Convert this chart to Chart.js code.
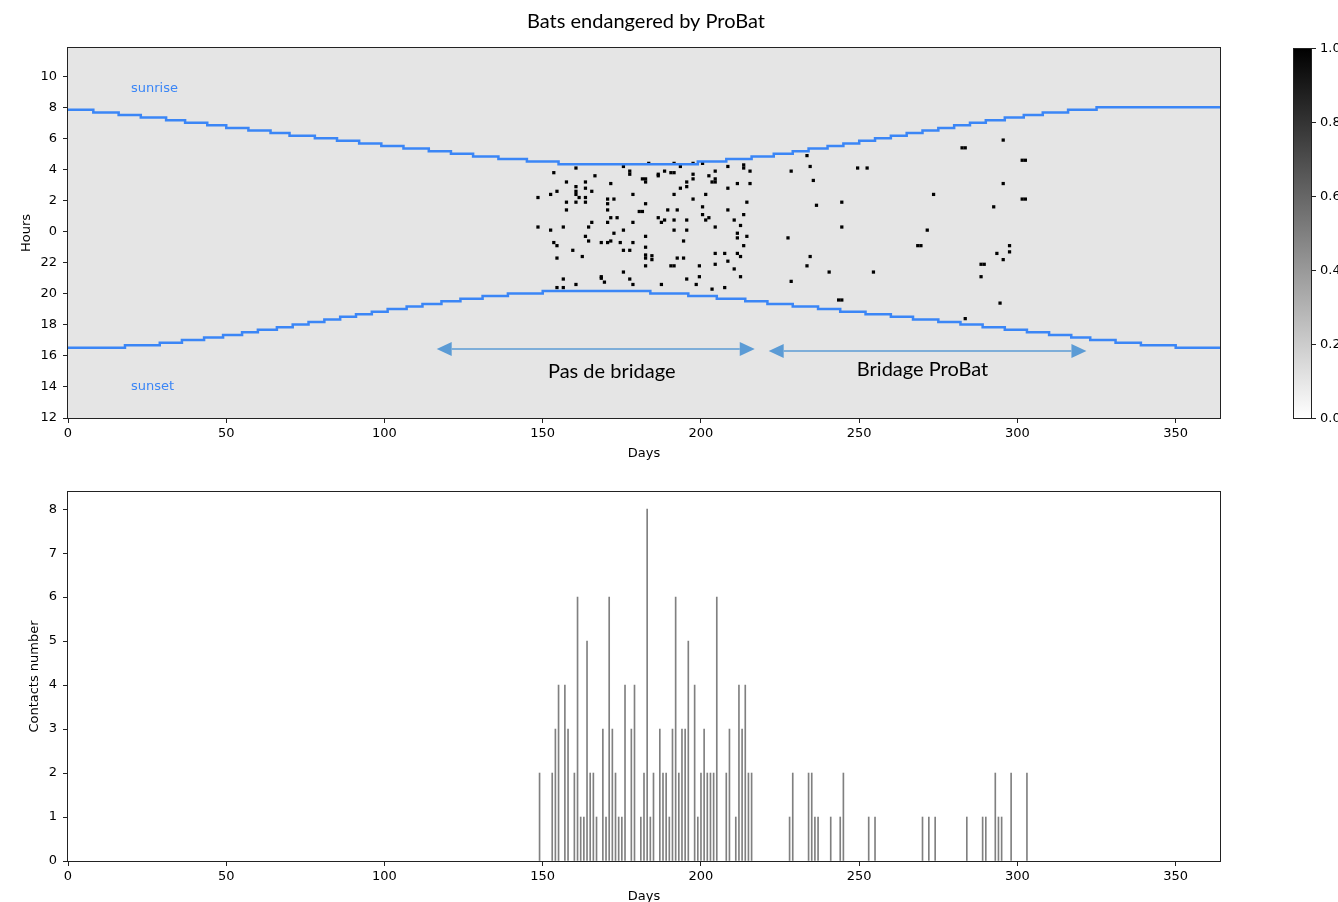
<!DOCTYPE html>
<html>
<head>
<meta charset="utf-8">
<title>Bats endangered by ProBat</title>
<script src="https://cdn.jsdelivr.net/npm/chart.js@4.4.1/dist/chart.umd.min.js"></script>
<style>
    html, body { margin: 0; padding: 0; background: #fff; overflow: hidden; }
    #wrap { position: relative; width: 1338px; height: 902px; }
    canvas { position: absolute; left: 0; }
    #topChart { top: 0; }
    #bottomChart { top: 470px; }
</style>
</head>
<body>
<div id="wrap">
    <canvas id="topChart" width="1338" height="470"></canvas>
    <canvas id="bottomChart" width="1338" height="440"></canvas>
</div>
<script>
// ---- data ----
const dayTicks = [0, 50, 100, 150, 200, 250, 300, 350];
const colorbarTicks = [0.0, 0.2, 0.4, 0.6, 0.8, 1.0];

// sunrise / sunset (clock hours), each value holds from its day onward
const sunriseDays = [0, 8, 16, 23, 31, 37, 44, 50, 57, 64, 70, 78, 85, 92, 99, 106, 114, 121, 128, 136, 145, 155,
    199, 208, 216, 223, 229, 234, 240, 245, 250, 255, 260, 265, 270, 275, 280, 285, 290, 296, 302, 308, 316, 325, 364];
const sunriseHours = [7.85, 7.68, 7.52, 7.35, 7.18, 7.02, 6.85, 6.68, 6.52, 6.35, 6.18, 6.02, 5.85, 5.68, 5.52, 5.35, 5.18, 5.02, 4.85, 4.68, 4.52, 4.35,
    4.52, 4.68, 4.85, 5.02, 5.18, 5.35, 5.52, 5.68, 5.85, 6.02, 6.18, 6.35, 6.52, 6.68, 6.85, 7.02, 7.18, 7.35, 7.52, 7.68, 7.85, 8.02, 8.02];

const sunsetDays = [0, 18, 29, 36, 43, 49, 55, 60, 66, 71, 76, 81, 86, 91, 96, 101, 107, 112, 118, 124, 131, 139, 150,
    184, 196, 205, 214, 221, 229, 237, 244, 252, 260, 267, 275, 282, 289, 296, 303, 310, 317, 323, 331, 339, 350, 364];
const sunsetHours = [16.52, 16.68, 16.85, 17.02, 17.18, 17.35, 17.52, 17.68, 17.85, 18.02, 18.18, 18.35, 18.52, 18.68, 18.85, 19.02, 19.18, 19.35, 19.52, 19.68, 19.85, 20.02, 20.18,
    20.02, 19.85, 19.68, 19.52, 19.35, 19.18, 19.02, 18.85, 18.68, 18.52, 18.35, 18.18, 18.02, 17.85, 17.68, 17.52, 17.35, 17.18, 17.02, 16.85, 16.68, 16.52, 16.52];

// single contacts (day, clock hour)
const contactDays = [
    161, 176, 184, 192, 194, 198, 201,
    154, 167, 178, 178, 187, 187, 189, 191, 192, 198, 203, 205, 209, 214, 214, 216,
    182, 183, 183, 158, 164, 172, 196, 198, 204, 205, 205, 212, 216,
    161, 164, 166, 196, 194, 209, 155, 161, 161, 153, 179, 192, 202,
    149, 162, 164, 171, 173, 198, 158, 161, 164, 171, 183, 215,
    158, 171, 181, 182, 190, 193, 201, 209, 201, 214,
    172, 174, 187, 189, 188, 192, 196, 202, 203, 211, 166, 171, 179, 213,
    149, 153, 157, 165, 176, 192, 196, 205,
    212, 173, 164, 183, 212, 215, 165, 172, 195, 154, 155, 169, 171, 175, 179, 214, 183, 160, 176, 178,
    205, 208, 212, 163, 183, 183, 185, 185, 213, 155, 193, 195, 209, 205, 183, 191, 192, 200, 211, 176,
    169, 169, 157, 178, 196, 200, 213, 170, 155, 157, 161, 179, 188, 199, 208, 204,
    234, 229, 235, 236, 250, 253, 237, 245, 283, 284, 296, 302, 303, 296, 302, 303, 274, 293, 245, 272,
    228, 269, 270, 298, 298, 294, 296, 235, 234, 289, 290, 241, 255, 289, 229, 244, 245, 295, 284
];
const contactHours = [
    4.1, 4.2, 4.4, 4.4, 4.2, 4.4, 4.4,
    3.8, 3.6, 3.9, 3.7, 3.7, 3.6, 3.9, 3.8, 3.8, 3.7, 3.6, 3.9, 4.2, 4.3, 4.1, 3.9,
    3.4, 3.4, 3.2, 3.2, 3.2, 3.1, 3.2, 3.4, 3.2, 3.4, 3.2, 3.1, 3.1,
    2.9, 2.8, 2.6, 2.9, 2.8, 2.8, 2.6, 2.6, 2.4, 2.4, 2.4, 2.4, 2.4,
    2.2, 2.2, 2.2, 2.1, 2.1, 2.1, 1.9, 1.9, 1.9, 1.8, 1.8, 1.9,
    1.4, 1.4, 1.3, 1.3, 1.4, 1.4, 1.6, 1.4, 1.1, 1.1,
    0.9, 0.9, 0.9, 0.75, 0.6, 0.75, 0.75, 0.75, 0.9, 0.75, 0.6, 0.6, 0.6, 0.4,
    0.3, 0.1, 0.3, 0.3, 0.1, 0.1, 0.1, 0.3,
    23.9, 23.9, 23.7, 23.7, 23.6, 23.7, 23.4, 23.4, 23.4, 23.3, 23.1, 23.3, 23.3, 23.3, 23.3, 23.1, 23.0, 22.8, 22.8, 22.8,
    22.6, 22.6, 22.6, 22.4, 22.5, 22.3, 22.45, 22.2, 22.4, 22.3, 22.3, 22.3, 22.1, 21.9, 21.8, 21.8, 21.8, 21.8, 21.6, 21.4,
    21.1, 21.0, 20.95, 20.95, 20.95, 21.1, 21.1, 20.75, 20.4, 20.4, 20.6, 20.6, 20.6, 20.6, 20.4, 20.3,
    4.9, 3.9, 4.2, 3.3, 4.1, 4.1, 1.7, 1.9, 5.4, 5.4, 5.9, 4.6, 4.6, 3.1, 2.1, 2.1, 2.4, 1.6, 0.3, 0.1,
    23.6, 23.1, 23.1, 23.1, 22.7, 22.6, 22.2, 22.4, 21.8, 21.9, 21.9, 21.4, 21.4, 21.1, 20.8, 19.6, 19.6, 19.4, 18.4
];

// contacts per day (bottom panel)
const barDays = [149, 153, 154, 155, 157, 158, 160, 161, 162, 163, 164, 165, 166, 167, 169, 170, 171, 172, 173, 174,
    175, 176, 178, 179, 181, 182, 183, 184, 185, 187, 188, 189, 190, 191, 192, 193, 194, 195, 196, 198,
    199, 200, 201, 202, 203, 204, 205, 208, 209, 211, 212, 213, 214, 215, 216,
    228, 229, 234, 235, 236, 237, 241, 244, 245, 253, 255, 270, 272, 274, 284, 289, 290, 293, 294, 295, 298, 303];
const barCounts = [2, 2, 3, 4, 4, 3, 2, 6, 1, 1, 5, 2, 2, 1, 3, 1, 6, 3, 2, 1,
    1, 4, 3, 4, 1, 2, 8, 1, 2, 3, 2, 2, 1, 3, 6, 2, 3, 3, 5, 4,
    1, 2, 3, 2, 2, 2, 6, 2, 3, 1, 4, 3, 4, 2, 2,
    1, 2, 2, 2, 1, 1, 1, 1, 2, 1, 1, 1, 1, 1, 1, 1, 1, 2, 1, 1, 2, 2];

// annotations (day, clock hour)
const annotations = {
    arrows: [
        { from: 116.5, to: 217, hour: 16.45, label: 'Pas de bridage', labelDay: 171.8, labelHour: 14.97 },
        { from: 221.4, to: 321.8, hour: 16.32, label: 'Bridage ProBat', labelDay: 270, labelHour: 15.1 }
    ],
    sunriseLabel: { day: 19.9, hour: 9.23 },
    sunsetLabel: { day: 19.9, hour: 14.0 }
};

const LINE_BLUE = '#3b86f6';
const ARROW_BLUE = '#5b9bd5';
const TEXT_FONT = "'Lato', 'Open Sans', sans-serif";

// hours axis starts at noon: 12 -> 0 ... 11 -> 23
const toAxisHour = h => (h >= 12 ? h - 12 : h + 12);

class BatActivityChart {
    constructor() {
        this.topChart = null;
        this.bottomChart = null;
        this.init();
    }

    init() {
        Chart.defaults.font.family = "'DejaVu Sans', sans-serif";
        Chart.defaults.font.size = 13;
        Chart.defaults.color = '#000';
        Chart.defaults.animation = false;
        this.createTopChart();
        this.createBottomChart();
    }

    xAxis(height, titlePad) {
        return {
            type: 'linear',
            min: 0,
            max: 364,
            offset: false,
            afterBuildTicks: s => { s.ticks = dayTicks.map(v => ({ value: v })); },
            afterFit: s => { s.height = height; },
            ticks: { padding: 3, maxRotation: 0, autoSkip: false, color: '#000' },
            grid: { display: true, drawOnChartArea: false, tickLength: 5, color: '#222', offset: false },
            border: { display: false },
            title: { display: true, text: 'Days', font: { size: 13 }, color: '#000', padding: { top: 0, bottom: titlePad } }
        };
    }

    framePlugin(fill) {
        return {
            id: 'frame',
            beforeDraw(chart) {
                if (!fill) return;
                const { ctx, chartArea: a } = chart;
                ctx.save();
                ctx.fillStyle = fill;
                ctx.fillRect(a.left, a.top, a.right - a.left, a.bottom - a.top);
                ctx.restore();
            },
            afterDraw(chart) {
                const { ctx, chartArea: a } = chart;
                ctx.save();
                ctx.strokeStyle = '#222';
                ctx.lineWidth = 1;
                ctx.strokeRect(Math.round(a.left) - 0.5, Math.round(a.top) - 0.5,
                    Math.round(a.right - a.left) + 1, Math.round(a.bottom - a.top) + 1);
                ctx.restore();
            }
        };
    }

    drawArrow(ctx, x1, x2, y) {
        const head = 15, half = 7;
        ctx.strokeStyle = ARROW_BLUE;
        ctx.fillStyle = ARROW_BLUE;
        ctx.lineWidth = 1.5;
        ctx.beginPath();
        ctx.moveTo(x1 + head, y);
        ctx.lineTo(x2 - head, y);
        ctx.stroke();
        ctx.beginPath();
        ctx.moveTo(x1, y);
        ctx.lineTo(x1 + head, y - half);
        ctx.lineTo(x1 + head, y + half);
        ctx.closePath();
        ctx.fill();
        ctx.beginPath();
        ctx.moveTo(x2, y);
        ctx.lineTo(x2 - head, y - half);
        ctx.lineTo(x2 - head, y + half);
        ctx.closePath();
        ctx.fill();
    }

    extrasPlugin() {
        const self = this;
        return {
            id: 'extras',
            afterDraw(chart) {
                const { ctx, chartArea: a, scales: { x, y } } = chart;
                ctx.save();

                // title
                ctx.fillStyle = '#000';
                ctx.font = `20px ${TEXT_FONT}`;
                ctx.textAlign = 'center';
                ctx.textBaseline = 'middle';
                ctx.fillText('Bats endangered by ProBat', 646, 22);

                // sunrise / sunset labels
                ctx.fillStyle = LINE_BLUE;
                ctx.font = "13px 'DejaVu Sans', sans-serif";
                ctx.textAlign = 'left';
                const sr = annotations.sunriseLabel, ss = annotations.sunsetLabel;
                ctx.fillText('sunrise', x.getPixelForValue(sr.day), y.getPixelForValue(toAxisHour(sr.hour)));
                ctx.fillText('sunset', x.getPixelForValue(ss.day), y.getPixelForValue(toAxisHour(ss.hour)));

                // arrows
                annotations.arrows.forEach(ar => {
                    self.drawArrow(ctx, x.getPixelForValue(ar.from), x.getPixelForValue(ar.to),
                        y.getPixelForValue(toAxisHour(ar.hour)));
                    ctx.fillStyle = '#000';
                    ctx.font = `20px ${TEXT_FONT}`;
                    ctx.textAlign = 'center';
                    ctx.fillText(ar.label, x.getPixelForValue(ar.labelDay), y.getPixelForValue(toAxisHour(ar.labelHour)));
                });

                // colorbar
                const cbLeft = a.right + 73, cbWidth = 18;
                const grad = ctx.createLinearGradient(0, a.top, 0, a.bottom);
                grad.addColorStop(0, '#000');
                grad.addColorStop(1, '#fff');
                ctx.fillStyle = grad;
                ctx.fillRect(cbLeft, a.top, cbWidth, a.bottom - a.top);
                ctx.strokeStyle = '#222';
                ctx.lineWidth = 1;
                ctx.strokeRect(cbLeft + 0.5, a.top + 0.5, cbWidth, a.bottom - a.top);
                ctx.fillStyle = '#000';
                ctx.font = "13px 'DejaVu Sans', sans-serif";
                ctx.textAlign = 'left';
                colorbarTicks.forEach(t => {
                    const py = Math.round(a.bottom - t * (a.bottom - a.top)) + 0.5;
                    ctx.beginPath();
                    ctx.moveTo(cbLeft + cbWidth, py);
                    ctx.lineTo(cbLeft + cbWidth + 5, py);
                    ctx.stroke();
                    ctx.fillText(t.toFixed(1), cbLeft + cbWidth + 9, py);
                });
                ctx.restore();
            }
        };
    }

    createTopChart() {
        const ctx = document.getElementById('topChart').getContext('2d');
        const stepLine = (days, hours) => days.map((d, i) => ({ x: d, y: toAxisHour(hours[i]) }));

        this.topChart = new Chart(ctx, {
            type: 'scatter',
            data: {
                datasets: [
                    {
                        type: 'line',
                        label: 'sunrise',
                        data: stepLine(sunriseDays, sunriseHours),
                        stepped: 'before',
                        borderColor: LINE_BLUE,
                        borderWidth: 2.5,
                        pointRadius: 0,
                        fill: false,
                        order: 0
                    },
                    {
                        type: 'line',
                        label: 'sunset',
                        data: stepLine(sunsetDays, sunsetHours),
                        stepped: 'before',
                        borderColor: LINE_BLUE,
                        borderWidth: 2.5,
                        pointRadius: 0,
                        fill: false,
                        order: 0
                    },
                    {
                        label: 'contacts',
                        // each contact is a one-day heatmap cell, centred half a day before its day
                        data: contactDays.map((d, i) => ({ x: d - 0.5, y: toAxisHour(contactHours[i]) })),
                        pointStyle: 'rect',
                        pointRadius: 2.3,
                        backgroundColor: '#000',
                        borderWidth: 0,
                        order: 1
                    }
                ]
            },
            options: {
                responsive: false,
                layout: { padding: { left: 0, right: 118, top: 48, bottom: 0 } },
                plugins: { legend: { display: false }, tooltip: { enabled: false } },
                scales: {
                    x: this.xAxis(52, 9),
                    y: {
                        min: 0,
                        max: 23.83,
                        afterFit: s => { s.width = 68; },
                        ticks: {
                            stepSize: 2,
                            includeBounds: false,
                            padding: 6,
                            color: '#000',
                            callback: v => String((v + 12) % 24)
                        },
                        grid: { display: true, drawOnChartArea: false, tickLength: 5, color: '#222' },
                        border: { display: false },
                        title: { display: true, text: 'Hours', font: { size: 13 }, color: '#000', padding: { top: 19, bottom: 0 } }
                    }
                }
            },
            plugins: [this.framePlugin('#e5e5e5'), this.extrasPlugin()]
        });
    }

    createBottomChart() {
        const ctx = document.getElementById('bottomChart').getContext('2d');
        this.bottomChart = new Chart(ctx, {
            type: 'bar',
            data: {
                datasets: [{
                    label: 'Contacts number',
                    data: barDays.map((d, i) => ({ x: d, y: barCounts[i] })),
                    backgroundColor: '#808080',
                    borderWidth: 0,
                    barThickness: 1
                }]
            },
            options: {
                responsive: false,
                layout: { padding: { left: 0, right: 118, top: 22, bottom: 0 } },
                plugins: { legend: { display: false }, tooltip: { enabled: false } },
                scales: {
                    x: this.xAxis(49, 6),
                    y: {
                        min: 0,
                        max: 8.39,
                        afterFit: s => { s.width = 68; },
                        ticks: { stepSize: 1, includeBounds: false, padding: 6, color: '#000' },
                        grid: { display: true, drawOnChartArea: false, tickLength: 5, color: '#222' },
                        border: { display: false },
                        title: { display: true, text: 'Contacts number', font: { size: 13 }, color: '#000', padding: { top: 27, bottom: 0 } }
                    }
                }
            },
            plugins: [this.framePlugin(null)]
        });
    }
}

document.addEventListener('DOMContentLoaded', () => {
    new BatActivityChart();
});
</script>
</body>
</html>
